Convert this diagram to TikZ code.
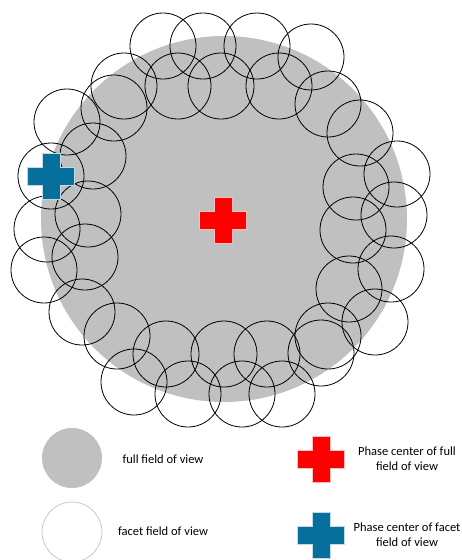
\documentclass[tikz,border=0pt]{standalone}
\usepackage{fontspec}
\setmainfont{Carlito}
\definecolor{fovgray}{RGB}{192,192,192}
\definecolor{facetblue}{RGB}{6,111,156}
\definecolor{crossred}{RGB}{255,0,0}
\definecolor{legedge}{RGB}{200,200,200}
\tikzset{
  facet/.style={draw=black, line width=0.8pt, fill=none},
  fullfov/.style={fill=fovgray, draw=none},
  lbl/.style={font=\fontsize{12.5}{15}\selectfont, align=center, inner sep=0pt},
  pics/plus/.style={code={
    \fill[#1, draw=white!75!#1, line width=0.6pt]
      (-23.5,-9) -- (-9,-9) -- (-9,-23) -- (9,-23) -- (9,-9) -- (23.5,-9) --
      (23.5,9) -- (9,9) -- (9,23) -- (-9,23) -- (-9,9) -- (-23.5,9) -- cycle;
  }}
}
\begin{document}
\begin{tikzpicture}[x=1pt,y=-1pt]
\useasboundingbox (0,0) rectangle (462,560);
% full field of view
\fill[fullfov] (224,219) circle (183);
% facets
\foreach \cx/\cy in {
  163/46, 203/46, 257/46, 311/57,
  124/86, 178/86, 221/86, 279/86,
  114/108, 328/104, 67/122, 360/133,
  93/156, 51/176, 397/174, 356/187,
  88/214, 394/215, 47/229, 353/230,
  85/257, 44/270, 391/269, 349/289,
  82/312, 375/322, 117/336, 328/336, 321/353,
  166/354, 224/354, 267/354,
  134/382, 188/394, 242/394, 282/394}
  \draw[facet] (\cx,\cy) circle (33);
% phase centres
\pic at (223,220) {plus=crossred};
\pic at (51,176) {plus=facetblue};
% legend
\fill[fullfov] (72,458) circle (30);
\node[lbl] (lfull) at (163,459) {full field of view};
\draw[legedge, line width=0.8pt] (72,532) circle (30);
\node[lbl] (lfacet) at (163,531) {facet field of view};
\pic at (321,459) {plus=crossred};
\node[lbl] (lpcfull) at (407,459) {Phase center of full\\field of view};
\pic at (321,535) {plus=facetblue};
\node[lbl] (lpcfacet) at (407,535) {Phase center of facet\\field of view};
\end{tikzpicture}
\end{document}
